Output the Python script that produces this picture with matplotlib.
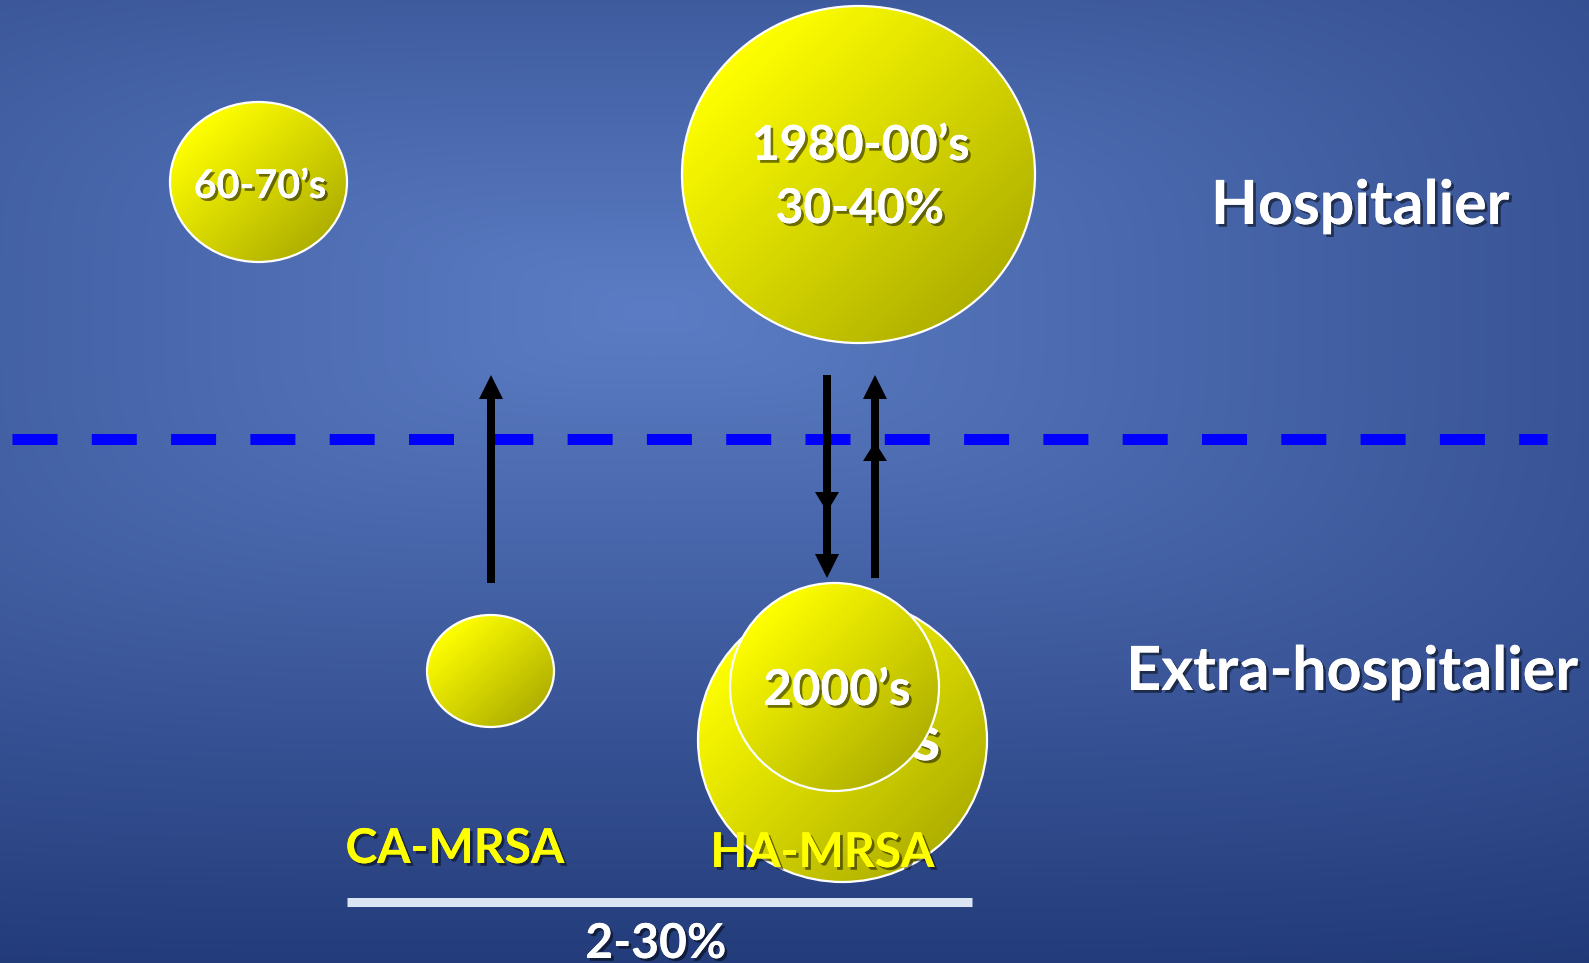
import numpy as np
import matplotlib
matplotlib.use("Agg")
import matplotlib.pyplot as plt
import matplotlib.patheffects as pe
from matplotlib.patches import Ellipse, Polygon

W, H = 1589, 963
FONT = ["Lato", "DejaVu Sans"]

# bubbles (pixel layout of the slide), drawn in this order
bubble_cx = [258.5, 858.5, 490.5, 842.5, 834.5]
bubble_cy = [182.0, 174.5, 671.0, 740.0, 687.0]
bubble_w = [177, 353, 127, 289, 209]
bubble_h = [160, 337, 112, 284, 208]

# white labels inside bubbles / zones: text, centre x, baseline y, width
white_labels = ["60-70’s", "1980-00’s", "30-40%", "2000’s", "Hospitalier",
                "Extra-hospitalier", "2-30%"]
white_x = [260, 860.5, 860, 837, 1360, 1352, 656]
white_y = [198, 160, 223, 705, 224, 690, 958]
white_w = [126, 207, 160, 140, 284, 430, 134]

yellow_labels = ["CA-MRSA", "HA-MRSA"]
yellow_x = [455, 822.5]
yellow_y = [863, 867]
yellow_w = [208, 213]

# arrows: x, tail y, head tips (y), head lengths
arrow_x = [491, 827, 875]
arrow_tail = [583, 375, 578]
arrow_tips = [[375], [512, 578], [375, 442]]
arrow_head_len = [[24], [20, 24], [24, 19]]

SHADOW = [pe.withSimplePatchShadow(offset=(2, -2), shadow_rgbFace="black", alpha=0.5),
          pe.Normal()]
WIDTH_BOOST = 1.05  # Lato is wider than the slide's Calibri


def background(ax):
    yy, xx = np.mgrid[0:H, 0:W]
    dx = np.abs(xx - 650) / 1600
    dy = (yy - 310) / np.where(yy > 310, 690, 640)
    t = np.clip((dx ** 4 + np.abs(dy) ** 4) ** 0.25, 0, 1)[..., None]
    c0 = np.array([92, 125, 197]) / 255
    c1 = np.array([32, 56, 118]) / 255
    img = c0 * (1 - t) + c1 * t
    ax.imshow(img, extent=(0, W, H, 0), origin="upper", zorder=0)


def bubble(ax, cx, cy, w, h, z):
    ys, xs = np.mgrid[0:1:120j, 0:1:120j]
    s = np.clip(((xs + ys) / 2 - 0.15) / 0.7, 0, 1)[..., None]
    top = np.array([1.0, 1.0, 0.0])
    bot = np.array([0.69, 0.69, 0.0])
    img = top * (1 - s) + bot * s
    im = ax.imshow(img, extent=(cx - w / 2, cx + w / 2, cy + h / 2, cy - h / 2),
                   origin="upper", zorder=z, interpolation="bilinear")
    edge = Ellipse((cx, cy), w, h, facecolor="none", edgecolor="white",
                   linewidth=1.6, zorder=z + 0.1)
    ax.add_patch(edge)
    im.set_clip_path(edge)


def fit_text(ax, renderer, x, y, s, width, color, z):
    t = ax.text(x, y, s, ha="center", va="baseline", fontsize=40,
                fontweight="bold", color=color, family=FONT, zorder=z,
                path_effects=SHADOW)
    w = t.get_window_extent(renderer).width
    t.set_fontsize(40 * width * WIDTH_BOOST / w)
    return t


fig = plt.figure(figsize=(W / 100, H / 100), dpi=100)
ax = fig.add_axes([0, 0, 1, 1])
ax.set_axis_off()
background(ax)

# dashed border between the two zones
ax.plot([12, 1547], [439, 439], color="#0000ff", linewidth=11 * 0.72,
        linestyle=(0, (45 / 11, 34.3 / 11)), dash_capstyle="butt", zorder=1)

# arrows
for x, tail, tips, lens in zip(arrow_x, arrow_tail, arrow_tips, arrow_head_len):
    up = tail > max(tips)
    far = min(tips) if up else max(tips)
    sign = 1 if up else -1
    end = far + sign * lens[tips.index(far)] * 0.5
    ax.plot([x, x], [tail, end], color="black", linewidth=8 * 0.72,
            solid_capstyle="butt", zorder=2)
    for tip, hl in zip(tips, lens):
        base = tip + sign * hl
        ax.add_patch(Polygon([(x, tip), (x - 12, base), (x + 12, base)],
                             closed=True, facecolor="black", edgecolor="none",
                             zorder=2))

# bubbles; the hidden label sits between the two bottom circles
for i, (cx, cy, w, h) in enumerate(zip(bubble_cx, bubble_cy, bubble_w, bubble_h)):
    bubble(ax, cx, cy, w, h, 3 + i)

fig.canvas.draw()
renderer = fig.canvas.get_renderer()
fit_text(ax, renderer, 845.5, 760, "1990’s", 180, "white", 6.5)
for s, x, y, w in zip(white_labels, white_x, white_y, white_w):
    fit_text(ax, renderer, x, y, s, w, "white", 10)
for s, x, y, w in zip(yellow_labels, yellow_x, yellow_y, yellow_w):
    fit_text(ax, renderer, x, y, s, w, "#ffff00", 10)

# 2-30% range bar
ax.plot([347, 972], [902, 902], color="#dce6f2", linewidth=9 * 0.72,
        solid_capstyle="butt", zorder=2)

ax.set_xlim(0, W)
ax.set_ylim(H, 0)
ax.set_aspect("auto")
fig.savefig("out.png", dpi=100)
